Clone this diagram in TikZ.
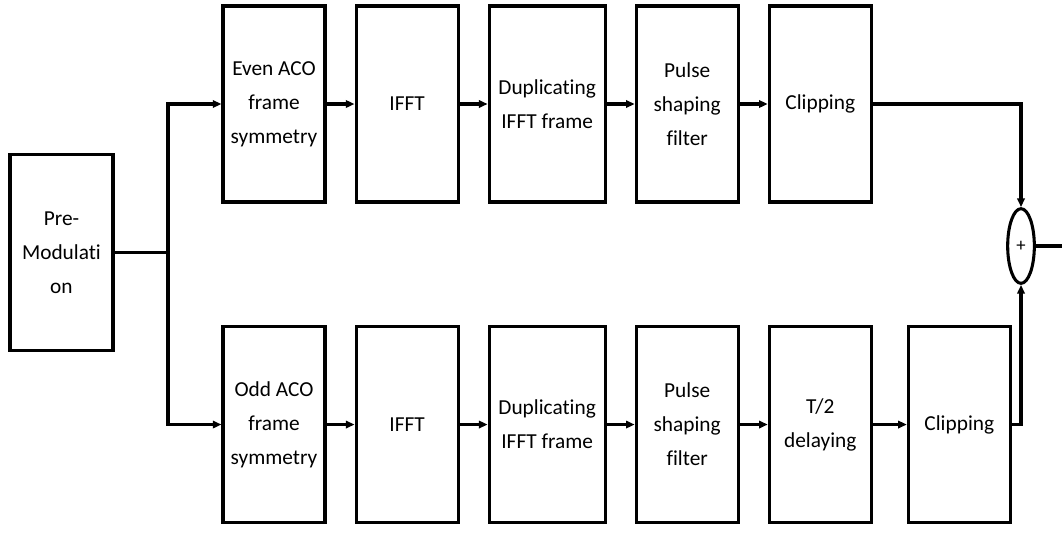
\documentclass[tikz,border=0pt]{standalone}
\usepackage{fontspec}
\setmainfont[Ligatures=NoCommon]{Carlito}
\usetikzlibrary{arrows.meta, positioning, shapes.geometric, calc}
\tikzset{
	block/.style={rectangle, draw=black, line width=2.3pt, align=center, minimum width=76.5pt, minimum height=147pt, inner sep=2pt, font=\fontsize{16}{25.5}\selectfont},
	wideblock/.style={block, minimum width=87pt},
	adder/.style={ellipse, draw=black, line width=2.3pt, minimum width=20pt, minimum height=56pt, inner sep=0pt, font=\fontsize{14}{16}\selectfont},
	arrow/.style={-{Triangle[length=6.5pt, width=5.5pt]}, line width=2.3pt},
	plainline/.style={line width=2.3pt},
}
\begin{document}
\begin{tikzpicture}[node distance=21pt]
	\useasboundingbox (0,0) rectangle (796.5pt,-418.5pt);
	\node[block, minimum width=77.25pt] (premod) at (46.1pt,-189.4pt) {Pre-\\Modulati\\on};
	\coordinate (split) at (126pt,-189.4pt);
	% upper branch
	\node[block] (evenaco) at (205.5pt,-78pt) {Even ACO\\frame\\symmetry};
	\node[block, right=of evenaco] (ifftA) {IFFT};
	\node[wideblock, right=of ifftA] (dupA) {Duplicating\\IFFT frame};
	\node[block, right=of dupA] (pulseA) {Pulse\\shaping\\filter};
	\node[block, right=of pulseA] (clipA) {Clipping};
	% lower branch
	\node[block] (oddaco) at (205.5pt,-318.4pt) {Odd ACO\\frame\\symmetry};
	\node[block, right=of oddaco] (ifftB) {IFFT};
	\node[wideblock, right=of ifftB] (dupB) {Duplicating\\IFFT frame};
	\node[block, right=of dupB] (pulseB) {Pulse\\shaping\\filter};
	\node[block, right=of pulseB] (delayB) {T/2\\delaying};
	\node[block, right=25.5pt of delayB] (clipB) {Clipping};
	% summing point
	\node[adder] (sum) at (765.75pt,-184.5pt) {+};
	\coordinate (out) at (796.5pt,-184.5pt);

	\draw[plainline] (premod.east) -- (split);
	\draw[arrow] (split) |- (evenaco.west);
	\draw[arrow] (split) |- (oddaco.west);
	\foreach \a/\b in {evenaco/ifftA, ifftA/dupA, dupA/pulseA, pulseA/clipA, oddaco/ifftB, ifftB/dupB, dupB/pulseB, pulseB/delayB, delayB/clipB}{\draw[arrow] (\a) -- (\b);}
	\draw[arrow] (clipA.east) -| (sum.north);
	\draw[arrow] (clipB.east) -| (sum.south);
	\draw[plainline] (sum.east) -- (out);
\end{tikzpicture}
\end{document}
